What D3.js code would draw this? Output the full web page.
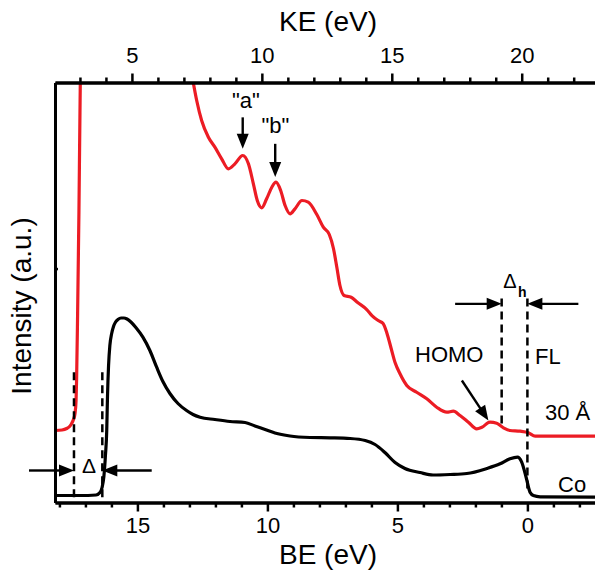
<!DOCTYPE html>
<html>
<head>
<meta charset="utf-8">
<script src="https://cdn.jsdelivr.net/npm/d3@7"></script>
<style>
  body { margin: 0; background: #fff; }
  svg text { font-family: "Liberation Sans", Arial, sans-serif; fill: #000; }
</style>
</head>
<body>
<svg id="chart" width="595" height="574"></svg>
<script>
// ---- data (BE in eV, intensity in a.u. 0..100) ----
var coBE  = [18.17, 17.21, 16.59, 16.44, 16.36, 16.29, 16.23, 16.18, 16.15, 16.11, 16.06, 15.99, 15.92, 15.84,
             15.75, 15.63, 15.52, 15.40, 15.25, 15.06, 14.79, 14.52, 14.26, 14.02, 13.75, 13.44, 13.11, 12.86,
             12.59, 12.02, 11.44, 10.86, 10.48, 10.09, 9.71, 9.13, 8.36, 7.59, 6.82, 6.24, 5.86, 5.48, 5.09,
             4.71, 4.13, 3.63, 2.97, 2.33, 1.56, 1.05, 0.67, 0.38, 0.22, 0.05, -0.10, -0.23, -0.49, -2.60];
var coInt = [1.67, 1.67, 1.79, 2.38, 3.57, 6.19, 11.19, 17.14, 25.48, 32.62, 37.38, 40.24, 41.90, 42.98,
             43.57, 43.93, 43.93, 43.69, 42.98, 41.67, 39.36, 36.19, 32.21, 28.81, 25.95, 23.57, 21.90, 20.95,
             20.31, 19.76, 19.29, 19.05, 18.21, 17.38, 16.55, 15.83, 15.48, 15.40, 15.24, 14.76, 13.81, 11.90, 9.52,
             8.10, 7.14, 6.55, 6.67, 6.90, 8.10, 9.21, 10.40, 10.79, 9.60, 6.02, 2.45, 1.67, 1.36, 1.26];

var filmBE  = [18.17, 17.90, 17.72, 17.61, 17.53, 17.46, 17.40, 17.36, 17.34, 17.30, 17.25, 17.21, 17.17,
               16.44, 13.36, 12.88, 12.72, 12.53, 12.27, 12.02, 11.76, 11.50, 11.25, 10.95, 10.73, 10.54, 10.39,
               10.22, 10.03, 9.83, 9.67, 9.49, 9.32, 9.13, 8.94, 8.67, 8.43, 8.10, 7.85, 7.62, 7.46, 7.33, 7.21,
               7.05, 6.78, 6.53, 6.18, 5.98, 5.74, 5.55, 5.40, 5.24, 5.09, 4.90, 4.64, 4.26, 3.87, 3.49, 3.10,
               2.85, 2.59, 2.27, 1.95, 1.75, 1.44, 1.18, 0.92, 0.67, 0.28, -0.04, -0.30, -2.60];
var filmInt = [17.14, 17.26, 17.62, 18.10, 18.81, 19.76, 21.19, 24.29, 29.05, 45.0, 68.81, 92.62, 110.0,
               129.0, 119.5, 100.95, 95.71, 90.95, 86.98, 84.60, 81.83, 79.45, 80.64, 82.62, 80.64, 75.88, 71.90,
               70.17, 72.31, 75.07, 76.26, 74.29, 70.71, 68.74, 69.93, 71.90, 71.50, 68.57, 65.55, 63.81, 60.48, 56.02, 51.67,
               49.29, 48.88, 47.62, 45.95, 44.52, 43.33, 42.62, 40.24, 36.67, 33.33, 30.64, 27.86, 26.26, 24.69, 22.69, 21.50,
               21.74, 20.71, 19.12, 17.55, 17.93, 19.12, 18.88, 17.79, 17.14, 16.98, 16.60, 15.79, 15.79];

var beTicks = [15, 10, 5, 0];
var keTicks = [5, 10, 15, 20];

// ---- layout ----
var svg = d3.select("#chart");
var plotL = 55, plotR = 595, plotT = 82.5, plotB = 502.5;

var x = d3.scaleLinear().domain([18.17, -2.60]).range([plotL, plotR]);
var xKE = d3.scaleLinear().domain([2.04, 22.82]).range([plotL, plotR]);
var y = d3.scaleLinear().domain([0, 100]).range([plotB, plotT]);

var red = "#ec1c24";

svg.append("clipPath").attr("id", "plotclip")
  .append("rect").attr("x", plotL).attr("y", plotT).attr("width", plotR - plotL).attr("height", plotB - plotT);

// curves
var line = d3.line()
  .x(function(d) { return x(d[0]); })
  .y(function(d) { return y(d[1]); })
  .curve(d3.curveMonotoneX);

var co = d3.zip(coBE, coInt);
var film = d3.zip(filmBE, filmInt);

var curves = svg.append("g").attr("clip-path", "url(#plotclip)");
curves.append("path").datum(film)
  .attr("d", line).attr("fill", "none").attr("stroke", red).attr("stroke-width", 3.2).attr("stroke-linejoin", "round");
curves.append("path").datum(co)
  .attr("d", line).attr("fill", "none").attr("stroke", "#000").attr("stroke-width", 3.2).attr("stroke-linejoin", "round");

// ---- axes ----
function styleAxis(g) {
  g.select(".domain").attr("stroke-width", 3).attr("stroke", "#000");
  g.selectAll(".tick line").attr("stroke-width", 2.5).attr("stroke", "#000");
  g.selectAll(".tick text").style("font-size", "22px");
}

var minorBE = d3.range(-2, 19).filter(function(v) { return v % 5 !== 0; });
var minorKE = d3.range(3, 23).filter(function(v) { return v % 5 !== 0; });

svg.append("g").attr("transform", "translate(0," + plotB + ")")
  .call(d3.axisBottom(x).tickValues(minorBE).tickSize(5).tickFormat("").tickSizeOuter(0))
  .call(styleAxis);
svg.append("g").attr("transform", "translate(0," + plotB + ")")
  .call(d3.axisBottom(x).tickValues(beTicks).tickSize(9).tickPadding(6).tickFormat(d3.format("d")).tickSizeOuter(0))
  .call(styleAxis);

svg.append("g").attr("transform", "translate(0," + plotT + ")")
  .call(d3.axisTop(xKE).tickValues(minorKE).tickSize(5).tickFormat("").tickSizeOuter(0))
  .call(styleAxis);
svg.append("g").attr("transform", "translate(0," + plotT + ")")
  .call(d3.axisTop(xKE).tickValues(keTicks).tickSize(9).tickPadding(11).tickFormat(d3.format("d")).tickSizeOuter(0))
  .call(styleAxis);

svg.append("g").attr("transform", "translate(" + plotL + ",0)")
  .call(d3.axisLeft(y).tickValues([55.7]).tickSize(-3).tickFormat("").tickSizeOuter(0))
  .call(styleAxis);

// axis titles
svg.append("text").attr("x", 328).attr("y", 31).attr("text-anchor", "middle")
  .style("font-size", "28px").text("KE (eV)");
svg.append("text").attr("x", 328).attr("y", 564).attr("text-anchor", "middle")
  .style("font-size", "28px").text("BE (eV)");
svg.append("text").attr("transform", "translate(31,306) rotate(-90)").attr("text-anchor", "middle")
  .style("font-size", "28px").text("Intensity (a.u.)");

// ---- annotations ----
var ann = svg.append("g");

function dashed(be, i0, i1) {
  ann.append("line")
    .attr("x1", x(be)).attr("x2", x(be)).attr("y1", y(i0)).attr("y2", y(i1))
    .attr("stroke", "#000").attr("stroke-width", 2.5).attr("stroke-dasharray", "8,5");
}

function arrow(x1, y1, x2, y2, len, half) {
  var dx = x2 - x1, dy = y2 - y1, L = Math.sqrt(dx * dx + dy * dy);
  var ux = dx / L, uy = dy / L;
  var bx = x2 - ux * len, by = y2 - uy * len;
  ann.append("line").attr("x1", x1).attr("y1", y1).attr("x2", bx + ux).attr("y2", by + uy)
    .attr("stroke", "#000").attr("stroke-width", 2.4);
  ann.append("path")
    .attr("d", "M" + x2 + "," + y2 + "L" + (bx - uy * half) + "," + (by + ux * half) +
               "L" + (bx + uy * half) + "," + (by - ux * half) + "Z")
    .attr("fill", "#000");
}

// work function difference at the cut-offs
dashed(17.44, 31, 0);
dashed(16.35, 31, 0);
arrow(x(19.17), y(7.62), x(17.44), y(7.62), 15, 6);
arrow(x(14.45), y(7.62), x(16.35), y(7.62), 15, 6);
ann.append("text").attr("x", 89).attr("y", 473).attr("text-anchor", "middle")
  .style("font-size", "21px").text("\u0394");

// HOMO onset and Fermi level
dashed(0.99, 48.6, 17.9);
dashed(0.0, 48.6, 2.9);
arrow(x(2.78), y(47.3), x(0.99), y(47.3), 15, 6);
arrow(x(-1.96), y(47.3), x(0.0), y(47.3), 15, 6);
ann.append("text").attr("x", 510).attr("y", 288).attr("text-anchor", "middle")
  .style("font-size", "20px").text("\u0394");
ann.append("text").attr("x", 518).attr("y", 297)
  .style("font-size", "14px").style("font-weight", "bold").text("h");
ann.append("text").attr("x", 535).attr("y", 364).style("font-size", "22px").text("FL");
ann.append("text").attr("x", 415).attr("y", 362).style("font-size", "22px").text("HOMO");
arrow(x(2.52), y(29.05), x(1.50), y(19.52), 15, 6);

// features "a" and "b"
ann.append("text").attr("x", 246).attr("y", 108).attr("text-anchor", "middle")
  .style("font-size", "22px").text("\"a\"");
arrow(x(10.95), y(91.7), x(10.95), y(84.2), 15, 6);
ann.append("text").attr("x", 275.5).attr("y", 133).attr("text-anchor", "middle")
  .style("font-size", "22px").text("\"b\"");
arrow(x(9.70), y(85.4), x(9.70), y(77.5), 15, 6);

// curve labels
ann.append("text").attr("x", 545).attr("y", 420).style("font-size", "22px").text("30 \u00c5");
ann.append("text").attr("x", 558).attr("y", 492).style("font-size", "22px").text("Co");
</script>
</body>
</html>
